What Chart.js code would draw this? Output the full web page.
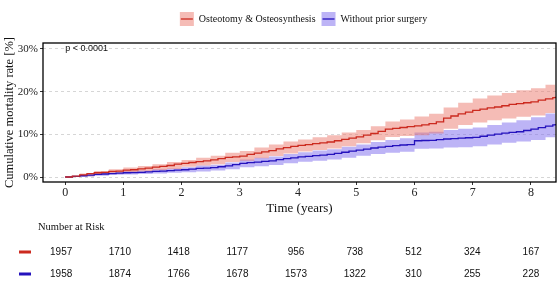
<!DOCTYPE html>
<html>
<head>
<meta charset="utf-8">
<script src="https://cdn.jsdelivr.net/npm/chart.js@4.4.1/dist/chart.umd.min.js"></script>
<style>
  html, body { margin: 0; padding: 0; background: #fff; }
  #wrap { width: 560px; height: 288px; position: relative; }
</style>
</head>
<body>
<div id="wrap"><canvas id="km"></canvas></div>
<script>
/* Cumulative mortality — two KM-style step curves with CI bands + risk table */

const groupNames = ['Osteotomy & Osteosynthesis', 'Without prior surgery'];

// estimate curves, read every 1/8 year
const lineTimes = [0, 0.125, 0.25, 0.375, 0.5, 0.625, 0.75, 0.875, 1, 1.125, 1.25, 1.375, 1.5, 1.625, 1.75, 1.875,
  2, 2.125, 2.25, 2.375, 2.5, 2.625, 2.75, 2.875, 3, 3.125, 3.25, 3.375, 3.5, 3.625, 3.75, 3.875,
  4, 4.125, 4.25, 4.375, 4.5, 4.625, 4.75, 4.875, 5, 5.125, 5.25, 5.375, 5.5, 5.625, 5.75, 5.875,
  6, 6.125, 6.25, 6.375, 6.5, 6.625, 6.75, 6.875, 7, 7.125, 7.25, 7.375, 7.5, 7.625, 7.75, 7.875,
  8, 8.125, 8.25, 8.375, 8.42];

const osteoEst = [0, 0.2, 0.5, 0.8, 1.0, 1.1, 1.3, 1.4, 1.6, 1.7, 1.9, 2.1, 2.3, 2.5, 2.7, 3.0,
  3.2, 3.4, 3.6, 3.8, 4.0, 4.3, 4.6, 4.7, 4.9, 5.3, 5.6, 5.9, 6.2, 6.6, 6.9, 7.2,
  7.4, 7.6, 7.8, 8.0, 8.2, 8.5, 8.8, 9.1, 9.4, 9.8, 10.2, 10.7, 11.2, 11.4, 11.6, 11.8,
  12.0, 12.2, 12.5, 12.9, 13.8, 14.3, 14.8, 15.2, 15.6, 15.9, 16.2, 16.4, 16.7, 17.0, 17.2, 17.4,
  17.6, 18.0, 18.3, 18.6, 18.8];

const noSurgEst = [0, 0.15, 0.3, 0.45, 0.6, 0.7, 0.8, 0.9, 1.0, 1.05, 1.1, 1.2, 1.3, 1.4, 1.5, 1.6,
  1.7, 1.85, 2.0, 2.1, 2.2, 2.4, 2.6, 2.9, 3.2, 3.35, 3.5, 3.65, 3.8, 4.05, 4.3, 4.5,
  4.7, 4.85, 5.0, 5.15, 5.3, 5.55, 5.8, 6.05, 6.3, 6.55, 6.8, 7.0, 7.2, 7.35, 7.5, 7.6,
  8.5, 8.55, 8.6, 8.75, 8.9, 9.0, 9.1, 9.2, 9.3, 9.55, 9.8, 10.05, 10.3, 10.45, 10.6, 10.9,
  11.2, 11.55, 11.9, 12.2, 12.4];

// confidence bands, read every 1/4 year
const bandTimes = [0, 0.25, 0.5, 0.75, 1, 1.25, 1.5, 1.75, 2, 2.25, 2.5, 2.75, 3, 3.25, 3.5, 3.75,
  4, 4.25, 4.5, 4.75, 5, 5.25, 5.5, 5.75, 6, 6.25, 6.5, 6.75, 7, 7.25, 7.5, 7.75, 8, 8.25, 8.42];

const osteoLow = [0, 0.2, 0.6, 0.8, 1.0, 1.3, 1.6, 1.9, 2.4, 2.7, 3.0, 3.5, 3.8, 4.4, 4.9, 5.5,
  6.0, 6.3, 6.7, 7.2, 7.9, 8.6, 9.4, 9.6, 9.8, 10.2, 11.3, 12.2, 12.8, 13.3, 13.7, 14.1, 14.4, 15.0, 15.5];
const osteoHigh = [0, 0.8, 1.4, 1.8, 2.2, 2.6, 3.0, 3.5, 4.0, 4.5, 5.0, 5.7, 6.1, 6.9, 7.6, 8.3,
  8.8, 9.3, 9.8, 10.4, 11.0, 11.9, 13.0, 13.5, 14.2, 14.8, 16.3, 17.4, 18.4, 19.1, 19.7, 20.3, 20.8, 21.6, 22.3];
const noSurgLow = [0, 0.1, 0.3, 0.5, 0.6, 0.7, 0.8, 1.0, 1.1, 1.3, 1.5, 1.8, 2.3, 2.5, 2.8, 3.2,
  3.6, 3.8, 4.1, 4.5, 5.0, 5.4, 5.7, 5.9, 6.6, 6.7, 6.9, 7.0, 7.2, 7.6, 8.0, 8.3, 8.7, 9.3, 9.8];
const noSurgHigh = [0, 0.5, 0.9, 1.1, 1.4, 1.5, 1.8, 2.0, 2.3, 2.7, 2.9, 3.4, 4.1, 4.5, 4.8, 5.4,
  5.8, 6.2, 6.5, 7.1, 7.6, 8.2, 8.7, 9.1, 10.4, 10.6, 11.0, 11.3, 11.6, 12.2, 12.8, 13.3, 14.0, 14.9, 15.7];

const xTicks = [0, 1, 2, 3, 4, 5, 6, 7, 8];
const yTicks = [0, 10, 20, 30];

const riskTimes = [0, 1, 2, 3, 4, 5, 6, 7, 8];
const riskOsteo = [1957, 1710, 1418, 1177, 956, 738, 512, 324, 167];
const riskNoSurg = [1958, 1874, 1766, 1678, 1573, 1322, 310, 255, 228];

const pText = 'p < 0.0001';

const RED = '#cc2a1f', RED_BAND = 'rgba(236,122,110,0.5)';
const BLUE = '#2412bd', BLUE_BAND = 'rgba(124,106,238,0.5)';
const SERIF = '"Liberation Serif", "DejaVu Serif", serif';
const SANS = '"Liberation Sans", Arial, sans-serif';

function pts(ts, arr) {
  return ts.map((t, i) => ({ x: t, y: arr[i] }));
}

function band(arr, color, fill) {
  return { data: pts(bandTimes, arr), stepped: true, borderWidth: 0, pointRadius: 0,
           backgroundColor: color, fill: fill, order: 2 };
}

function line(arr, color, label) {
  return { label: label, data: pts(lineTimes, arr), stepped: true, borderColor: color,
           borderWidth: 1.3, pointRadius: 0, fill: false, order: 0 };
}

/* legend, panel border, p-value and risk table */
const extras = {
  id: 'extras',
  afterDatasetsDraw(chart) {
    const { ctx, chartArea: a } = chart;
    ctx.save();
    ctx.strokeStyle = '#000';
    ctx.lineWidth = 1.3;
    ctx.strokeRect(a.left, a.top, a.right - a.left, a.bottom - a.top);
    ctx.fillStyle = '#111';
    ctx.font = '9px ' + SANS;
    ctx.textBaseline = 'middle';
    ctx.fillText(pText, chart.scales.x.getPixelForValue(0), chart.scales.y.getPixelForValue(30));
    ctx.restore();
  },
  afterDraw(chart) {
    const { ctx, chartArea: a } = chart;
    const xs = chart.scales.x;
    ctx.save();

    // legend
    ctx.font = '10px ' + SERIF;
    ctx.textBaseline = 'middle';
    const keys = [[RED, RED_BAND], [BLUE, BLUE_BAND]];
    const box = 14, gap = 5, sep = 6;
    const w = groupNames.map(n => ctx.measureText(n).width);
    const total = box * 2 + gap * 2 + sep + w[0] + w[1];
    let x = (a.left + a.right) / 2 - total / 2 + 4;
    const ly = 19;
    groupNames.forEach((n, i) => {
      ctx.fillStyle = keys[i][1];
      ctx.fillRect(x, ly - box / 2, box, box);
      ctx.strokeStyle = keys[i][0];
      ctx.lineWidth = 1.3;
      ctx.beginPath();
      ctx.moveTo(x + 1, ly); ctx.lineTo(x + box - 1, ly);
      ctx.stroke();
      ctx.fillStyle = '#111';
      ctx.fillText(n, x + box + gap, ly + 0.5);
      x += box + gap + w[i] + sep;
    });

    // risk table
    ctx.fillStyle = '#111';
    ctx.font = '10.5px ' + SERIF;
    ctx.fillText('Number at Risk', 38, 227);
    const rows = [[riskOsteo, RED, 252], [riskNoSurg, BLUE, 274]];
    ctx.font = '10px ' + SANS;
    ctx.textAlign = 'center';
    rows.forEach(([vals, col, y]) => {
      ctx.fillStyle = col;
      ctx.fillRect(19, y - 1.5, 12, 3);
      ctx.fillStyle = '#111';
      vals.forEach((v, i) => {
        const t = riskTimes[i];
        const px = xs.getPixelForValue(t) - 4 * (1 - t / 8);
        ctx.fillText(String(v), px, y);
      });
    });
    ctx.restore();
  }
};

new Chart(document.getElementById('km'), {
  type: 'line',
  data: {
    datasets: [
      band(osteoLow, RED_BAND, false),
      band(osteoHigh, RED_BAND, '-1'),
      band(noSurgLow, BLUE_BAND, false),
      band(noSurgHigh, BLUE_BAND, '-1'),
      line(osteoEst, RED, groupNames[0]),
      line(noSurgEst, BLUE, groupNames[1]),
    ],
  },
  options: {
    responsive: true,
    maintainAspectRatio: false,
    animation: false,
    layout: { padding: { top: 43, right: 4, bottom: 71, left: 0 } },
    plugins: { legend: { display: false }, tooltip: { enabled: false } },
    scales: {
      x: {
        type: 'linear', min: -0.38, max: 8.43,
        afterBuildTicks: s => { s.ticks = xTicks.map(v => ({ value: v })); },
        afterFit: s => { s.height = 35; },
        border: { display: false },
        grid: { drawOnChartArea: false, drawTicks: true, tickLength: 3, tickColor: '#333' },
        ticks: { color: '#222', padding: 1, font: { family: SERIF, size: 12 } },
        title: { display: true, text: 'Time (years)', color: '#111',
                 padding: { top: 0, bottom: 1 }, font: { family: SERIF, size: 13 } },
      },
      y: {
        min: -1.17, max: 31.4,
        afterBuildTicks: s => { s.ticks = yTicks.map(v => ({ value: v })); },
        afterFit: s => { s.width = 43; },
        border: { display: false, dash: [3, 3] },
        grid: { color: '#d6d6d6', drawTicks: true, tickLength: 3,
                tickColor: '#333', tickBorderDash: [] },
        ticks: { color: '#222', padding: 2, font: { family: SERIF, size: 11 },
                 callback: v => v + '%' },
        title: { display: true, text: 'Cumulative mortality rate [%]', color: '#111',
                 padding: { top: 2, bottom: 0 }, font: { family: SERIF, size: 12.5 } },
      },
    },
  },
  plugins: [extras],
});
</script>
</body>
</html>
